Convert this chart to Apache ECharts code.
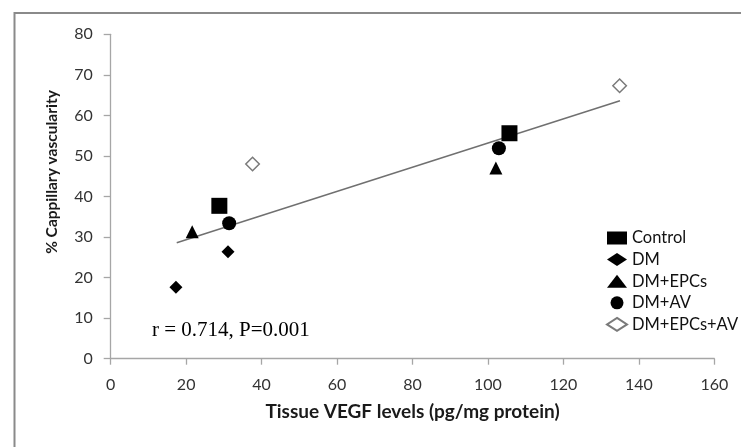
<!DOCTYPE html>
<html>
<head>
<meta charset="utf-8">
<script src="https://cdn.jsdelivr.net/npm/echarts@6/dist/echarts.min.js"></script>
<style>html,body{margin:0;padding:0;background:#fff}#c{width:741px;height:447px}</style>
</head>
<body>
<div id="c"></div>
<script>
// Data
var controlX = [28.8, 105.7];
var controlY = [37.7, 55.6];
var dmX = [17.3, 31.1];
var dmY = [17.6, 26.4];
var dmEpcsX = [21.6, 102.1];
var dmEpcsY = [31.3, 47.0];
var dmAvX = [31.4, 102.9];
var dmAvY = [33.4, 51.9];
var dmEpcsAvX = [37.6, 134.9];
var dmEpcsAvY = [48.0, 67.3];
var fitX = [17.5, 135.0];
var fitY = [28.6, 63.6];
var groupNames = ['Control', 'DM', 'DM+EPCs', 'DM+AV', 'DM+EPCs+AV'];
var xTicks = [0, 20, 40, 60, 80, 100, 120, 140, 160];
var yTicks = [0, 10, 20, 30, 40, 50, 60, 70, 80];
var annotation = 'r = 0.714, P=0.001';

function pairs(xs, ys) { return xs.map(function (x, i) { return [x, ys[i]]; }); }

var chart = echarts.init(document.getElementById('c'), null, {renderer: 'canvas'});
var sans = 'Lato';
var axisCol = '#a6a6a6';
var option = {
  animation: false,
  backgroundColor: '#ffffff',
  grid: {left: 110.7, right: 26.7, top: 34.3, bottom: 88.3, containLabel: false},
  xAxis: {
    type: 'value', min: xTicks[0], max: xTicks[xTicks.length - 1], interval: 20,
    name: 'Tissue VEGF levels (pg/mg protein)', nameLocation: 'middle', nameGap: 44,
    nameTextStyle: {fontFamily: sans, fontWeight: 'bold', fontSize: 19, color: '#1a1a1a'},
    axisLine: {show: true, lineStyle: {color: axisCol, width: 1.3}},
    axisTick: {show: true, length: 6, lineStyle: {color: axisCol, width: 1.3}},
    axisLabel: {fontFamily: sans, fontSize: 16, color: '#333', margin: 18},
    splitLine: {show: false}
  },
  yAxis: {
    type: 'value', min: yTicks[0], max: yTicks[yTicks.length - 1], interval: 10,
    axisLine: {show: true, lineStyle: {color: axisCol, width: 1.3}},
    axisTick: {show: true, length: 7, lineStyle: {color: axisCol, width: 1.3}},
    axisLabel: {fontFamily: sans, fontSize: 16, color: '#333', margin: 18},
    splitLine: {show: false}
  },
  legend: {
    orient: 'vertical', left: 606, top: 229, padding: 0,
    itemWidth: 20, itemHeight: 13, itemGap: 3.6, symbolKeepAspect: false,
    textStyle: {fontFamily: sans, fontSize: 16.5, color: '#111', lineHeight: 18},
    data: groupNames
  },
  series: [
    {type: 'line', data: pairs(fitX, fitY), symbol: 'none', silent: true, z: 1,
     lineStyle: {color: '#707070', width: 1.5}},
    {name: groupNames[0], type: 'scatter', data: pairs(controlX, controlY), symbol: 'rect', symbolSize: 16, z: 3,
     itemStyle: {color: '#000', opacity: 1}},
    {name: groupNames[1], type: 'scatter', data: pairs(dmX, dmY), symbol: 'diamond', symbolSize: 13, z: 3,
     itemStyle: {color: '#000', opacity: 1}},
    {name: groupNames[2], type: 'scatter', data: pairs(dmEpcsX, dmEpcsY), symbol: 'triangle', symbolSize: 13, z: 3,
     itemStyle: {color: '#000', opacity: 1}},
    {name: groupNames[3], type: 'scatter', data: pairs(dmAvX, dmAvY), symbol: 'circle', symbolSize: 14, z: 3,
     itemStyle: {color: '#000', opacity: 1}},
    {name: groupNames[4], type: 'scatter', data: pairs(dmEpcsAvX, dmEpcsAvY), symbol: 'diamond', symbolSize: 13.5, z: 3,
     itemStyle: {color: '#fff', borderColor: '#7a7a7a', borderWidth: 1.5, opacity: 1}}
  ],
  graphic: [
    {type: 'rect', left: 12, top: 10.5, z: -1, silent: true,
     shape: {x: 0, y: 0, width: 800, height: 500},
     style: {fill: 'none', stroke: '#8a8a8a', lineWidth: 2}},
    {type: 'text', x: 52, y: 172, rotation: Math.PI / 2, silent: true,
     style: {text: '% Cappillary vascularity', fontFamily: sans, fontWeight: 'bold', fontSize: 15.5,
             fill: '#1a1a1a', textAlign: 'center', textVerticalAlign: 'middle'}},
    {type: 'text', x: 152, y: 330, silent: true,
     style: {text: annotation, fontFamily: 'Liberation Serif', fontSize: 21, fill: '#000',
             textAlign: 'left', textVerticalAlign: 'middle'}}
  ]
};
chart.setOption(option);
</script>
</body>
</html>
